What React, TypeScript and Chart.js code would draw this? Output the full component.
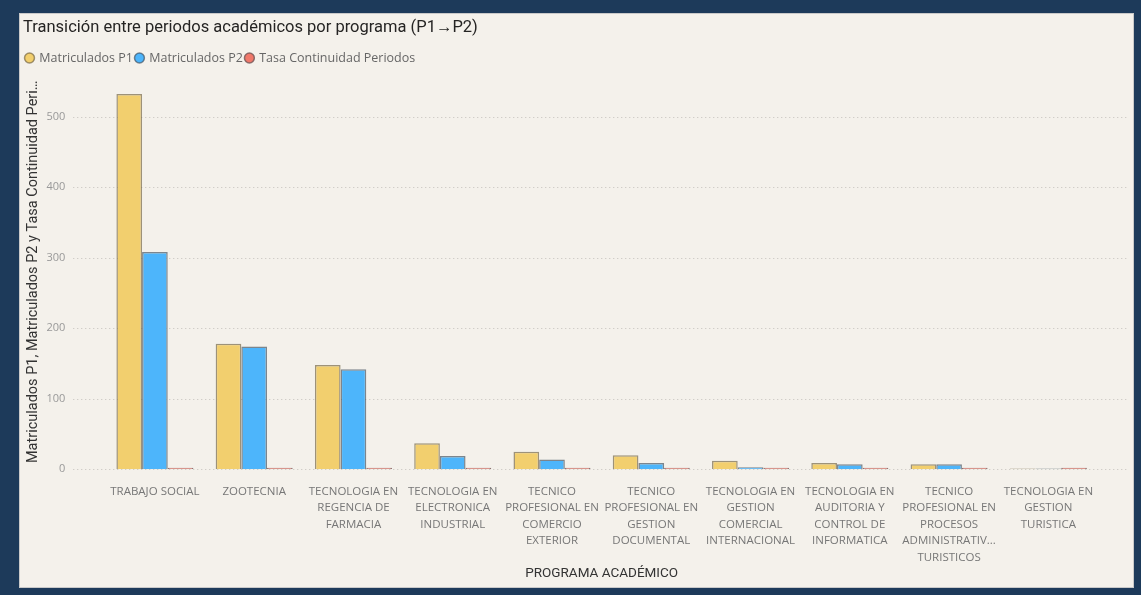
import { useEffect, useRef } from "react";
import { Chart, registerables } from "chart.js";

Chart.register(...registerables);

const programas: string[][] = [
  ["TRABAJO SOCIAL"],
  ["ZOOTECNIA"],
  ["TECNOLOGIA EN", "REGENCIA DE", "FARMACIA"],
  ["TECNOLOGIA EN", "ELECTRONICA", "INDUSTRIAL"],
  ["TECNICO", "PROFESIONAL EN", "COMERCIO", "EXTERIOR"],
  ["TECNICO", "PROFESIONAL EN", "GESTION", "DOCUMENTAL"],
  ["TECNOLOGIA EN", "GESTION", "COMERCIAL", "INTERNACIONAL"],
  ["TECNOLOGIA EN", "AUDITORIA Y", "CONTROL DE", "INFORMATICA"],
  ["TECNICO", "PROFESIONAL EN", "PROCESOS", "ADMINISTRATIV...", "TURISTICOS"],
  ["TECNOLOGIA EN", "GESTION", "TURISTICA"],
];

const matriculadosP1 = [532, 178, 148, 37, 25, 20, 12, 9, 7, 1];
const matriculadosP2 = [308, 174, 142, 19, 14, 9, 3, 7, 7, 1];
const tasaContinuidad = [0.58, 0.98, 0.96, 0.51, 0.56, 0.45, 0.25, 0.78, 1.0, 1.0];

const yTickValues = [0, 100, 200, 300, 400, 500];

const TITLE = "Transición entre periodos académicos por programa (P1→P2)";
const Y_TITLE = "Matriculados P1, Matriculados P2 y Tasa Continuidad Peri…";
const X_TITLE = "PROGRAMA ACADÉMICO";

const dottedGrid = {
  id: "dottedGrid",
  beforeDatasetsDraw(chart: any) {
    const { ctx, chartArea, scales } = chart;
    const y = scales.y;
    ctx.save();
    ctx.strokeStyle = "#c4c1bb";
    ctx.lineWidth = 1;
    ctx.setLineDash([1, 3]);
    yTickValues.forEach((v) => {
      const py = Math.round(y.getPixelForValue(v)) + 0.5;
      ctx.beginPath();
      ctx.moveTo(chartArea.left - 32, py);
      ctx.lineTo(chartArea.right + 30, py);
      ctx.stroke();
    });
    ctx.restore();
  },
};

export default function App() {
  const canvasRef = useRef<HTMLCanvasElement | null>(null);

  useEffect(() => {
    document.body.style.margin = "0";
    const canvas = canvasRef.current;
    if (!canvas) return;
    const chart = new Chart(canvas, {
      type: "bar",
      data: {
        labels: programas,
        datasets: [
          {
            label: "Matriculados P1",
            data: matriculadosP1,
            backgroundColor: "#f2cf6e",
            borderColor: "rgba(110,95,60,0.65)",
            borderWidth: 1.5,
          },
          {
            label: "Matriculados P2",
            data: matriculadosP2,
            backgroundColor: "#4db5fb",
            borderColor: "rgba(60,75,90,0.65)",
            borderWidth: 1.5,
          },
          {
            label: "Tasa Continuidad Periodos",
            data: tasaContinuidad,
            backgroundColor: "#f0786a",
            borderColor: "rgba(115,85,85,0.8)",
            borderWidth: 1.5,
            minBarLength: 1.5,
          },
        ],
      },
      options: {
        responsive: false,
        animation: false,
        maintainAspectRatio: false,
        datasets: {
          bar: { barPercentage: 1, categoryPercentage: 0.776 },
        },
        layout: { padding: { left: 3, right: 35, top: 0, bottom: 5 } },
        plugins: {
          title: {
            display: true,
            text: TITLE,
            align: "start",
            color: "#252423",
            font: { family: "Roboto", size: 16.5, weight: "normal" },
            padding: { top: 4, bottom: 11 },
          },
          legend: {
            display: true,
            align: "start",
            labels: {
              usePointStyle: true,
              pointStyle: "circle",
              boxWidth: 7,
              boxHeight: 7,
              padding: 3,
              color: "#666666",
              font: { family: "Open Sans", size: 12.5 },
            },
          },
          tooltip: { enabled: false },
        },
        scales: {
          x: {
            grid: { display: false, drawTicks: true, tickLength: 14 },
            border: { display: false },
            ticks: {
              maxRotation: 0,
              minRotation: 0,
              autoSkip: false,
              color: "#777777",
              padding: 0,
              font: { family: "Open Sans", size: 11.5, lineHeight: 1.435 },
            },
            title: {
              display: true,
              text: X_TITLE,
              color: "#333333",
              font: { family: "Roboto", size: 13.5 },
              padding: { top: 0, bottom: 0 },
            },
          },
          y: {
            min: 0,
            max: 560,
            grid: { display: false, drawTicks: true, tickLength: 36 },
            border: { display: false },
            afterBuildTicks: (scale: any) => {
              scale.ticks = yTickValues.map((v) => ({ value: v }));
            },
            ticks: {
              color: "#999999",
              padding: 4,
              font: { family: "Open Sans", size: 11 },
            },
            title: {
              display: true,
              text: Y_TITLE,
              color: "#333333",
              font: { family: "Roboto", size: 14.5 },
              padding: { top: 2, bottom: 0 },
            },
          },
        },
      },
      plugins: [dottedGrid],
    });
    return () => chart.destroy();
  }, []);

  return (
    <div
      style={{
        position: "fixed",
        left: 0,
        top: 0,
        width: 1141,
        height: 595,
        background: "#1d3a5a",
      }}
    >
      <div
        style={{
          position: "absolute",
          left: 20,
          top: 14,
          width: 1113,
          height: 573,
          background: "#f4f1eb",
          boxShadow: "0 0 0 1px #c9c9c9",
        }}
      >
        <canvas ref={canvasRef} width={1113} height={573} style={{ display: "block" }} />
      </div>
    </div>
  );
}
